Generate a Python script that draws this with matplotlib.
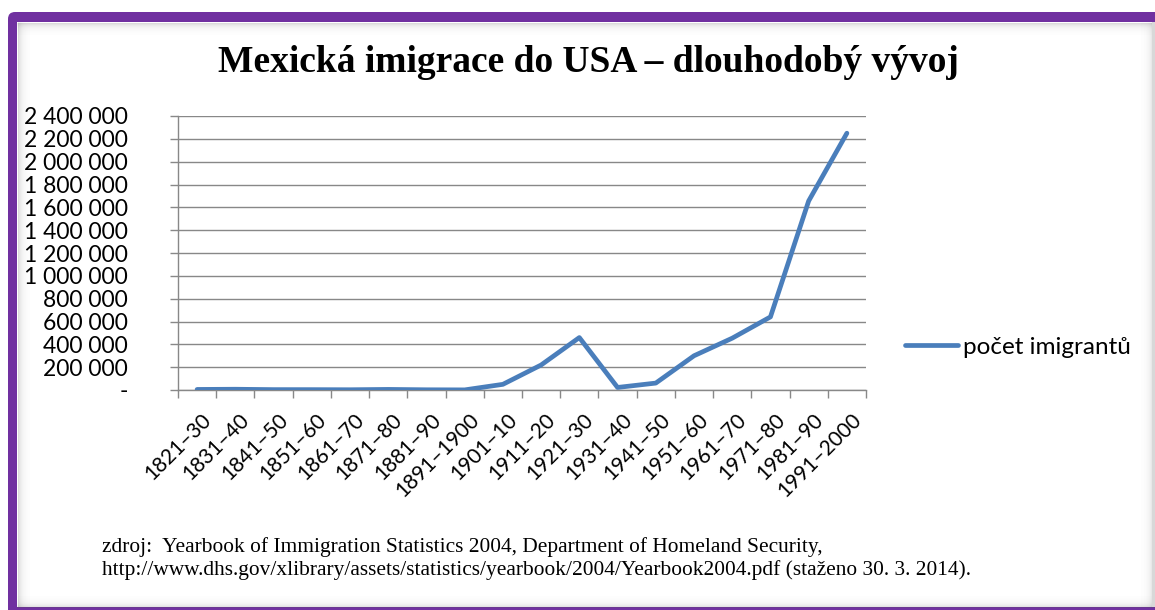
import numpy as np
import matplotlib
matplotlib.use("Agg")
import matplotlib.pyplot as plt
from matplotlib.patches import FancyBboxPatch
from matplotlib.ticker import FuncFormatter, MultipleLocator, FixedLocator
from matplotlib.transforms import ScaledTranslation

# ---- data ----
decades = ["1821–30", "1831–40", "1841–50", "1851–60", "1861–70", "1871–80",
           "1881–90", "1891–1900", "1901–10", "1911–20", "1921–30", "1931–40",
           "1941–50", "1951–60", "1961–70", "1971–80", "1981–90", "1991–2000"]
immigrants = [4817, 6599, 3271, 3078, 2191, 5162, 1913, 971, 49642, 219004,
              459287, 22319, 60589, 299811, 453937, 640294, 1655843, 2249421]
series_name = "počet imigrantů"
title = "Mexická imigrace do USA – dlouhodobý vývoj"
source_lines = ["zdroj:  Yearbook of Immigration Statistics 2004, Department of Homeland Security,",
                "http://www.dhs.gov/xlibrary/assets/statistics/yearbook/2004/Yearbook2004.pdf (staženo 30. 3. 2014)."]

W, H = 1155, 610
fig = plt.figure(figsize=(W / 100, H / 100), dpi=100)
fig.patch.set_facecolor("white")

# ---- background frame with inner shadow ----
bg = fig.add_axes([0, 0, 1, 1], zorder=-5)
bg.axis("off")
bg.set_xlim(0, W)
bg.set_ylim(H, 0)
outer = FancyBboxPatch((8, 12), 1300, 700, boxstyle="round,pad=0,rounding_size=7",
                       linewidth=0, facecolor="#7030A0", zorder=1)
bg.add_patch(outer)
inner = FancyBboxPatch((17, 22), 1300, 585, boxstyle="square,pad=0",
                       linewidth=0, facecolor="white", zorder=2)
bg.add_patch(inner)
for k in range(12):
    a = 0.22 * np.exp(-k / 3.5)
    c = (0.35, 0.35, 0.35, a)
    lw = 0.72
    bg.plot([17, W], [22.5 + k, 22.5 + k], color=c, lw=lw, zorder=3, solid_capstyle="butt")
    bg.plot([17.5 + k, 17.5 + k], [22, 607], color=c, lw=lw, zorder=3, solid_capstyle="butt")
    bg.plot([17, W], [606.5 - k, 606.5 - k], color=c, lw=lw, zorder=3, solid_capstyle="butt")
    bg.plot([1151.5 - k, 1151.5 - k], [22, 607], color=(0.35, 0.35, 0.35, a * 0.8),
            lw=lw, zorder=3, solid_capstyle="butt")
bg.add_patch(FancyBboxPatch((1152, 22), 10, 585, boxstyle="square,pad=0",
                            linewidth=0, facecolor="#d8d8d8", zorder=3))

# ---- chart ----
ax = fig.add_axes([178 / W, 1 - 390 / H, (866 - 178) / W, (390 - 116) / H])
ax.patch.set_alpha(0)
x = np.arange(len(decades))
ax.plot(x, immigrants, color="#4A7EBB", linewidth=3.4, solid_capstyle="round",
        solid_joinstyle="round", label=series_name, zorder=3)
ax.set_xlim(-0.5, len(decades) - 0.5)
ax.set_ylim(0, 2400000)

ax.yaxis.set_major_locator(MultipleLocator(200000))
ax.yaxis.set_major_formatter(FuncFormatter(
    lambda v, p: "-" if abs(v) < 1 else f"{int(round(v)):,}".replace(",", " ")))
ax.grid(axis="y", color="#888888", linewidth=1.0)
ax.set_axisbelow(True)

ax.xaxis.set_major_locator(FixedLocator(x))
ax.set_xticklabels(decades)
ax.xaxis.set_minor_locator(FixedLocator(np.arange(len(decades) + 1) - 0.5))
ax.tick_params(axis="x", which="major", length=0, pad=14)
ax.tick_params(axis="x", which="minor", length=6, color="#888888", width=1)
ax.tick_params(axis="y", length=6, color="#888888", width=1, pad=30)

lato = ["Lato", "DejaVu Sans"]
for lab in ax.get_yticklabels():
    lab.set_fontfamily(lato)
    lab.set_fontsize(16.5)
    lab.set_horizontalalignment("right")
shift = ScaledTranslation(4 / 100, 0, fig.dpi_scale_trans)
for lab in ax.get_xticklabels():
    lab.set_fontfamily(lato)
    lab.set_fontsize(15)
    lab.set_rotation(45)
    lab.set_horizontalalignment("right")
    lab.set_verticalalignment("top")
    lab.set_rotation_mode("anchor")
    lab.set_transform(lab.get_transform() + shift)

for s in ["top", "right"]:
    ax.spines[s].set_visible(False)
for s in ["left", "bottom"]:
    ax.spines[s].set_color("#888888")
    ax.spines[s].set_linewidth(1)

leg = fig.legend(loc="center left", bbox_to_anchor=(905 / W, 1 - 347 / H),
                 frameon=False, borderpad=0, borderaxespad=0, handlelength=2.2,
                 handletextpad=0.2, prop={"family": lato, "size": 17.5})

fig.text(588 / W, 1 - 62 / H, title, ha="center", va="center",
         family=["Liberation Serif", "DejaVu Serif"], weight="bold", fontsize=27)
fig.text(102 / W, 1 - 547 / H, source_lines[0], ha="left", va="center",
         family=["Liberation Serif", "DejaVu Serif"], fontsize=15.4)
fig.text(102 / W, 1 - 570 / H, source_lines[1], ha="left", va="center",
         family=["Liberation Serif", "DejaVu Serif"], fontsize=15.4)

fig.savefig("out.png", dpi=100, facecolor="white")
